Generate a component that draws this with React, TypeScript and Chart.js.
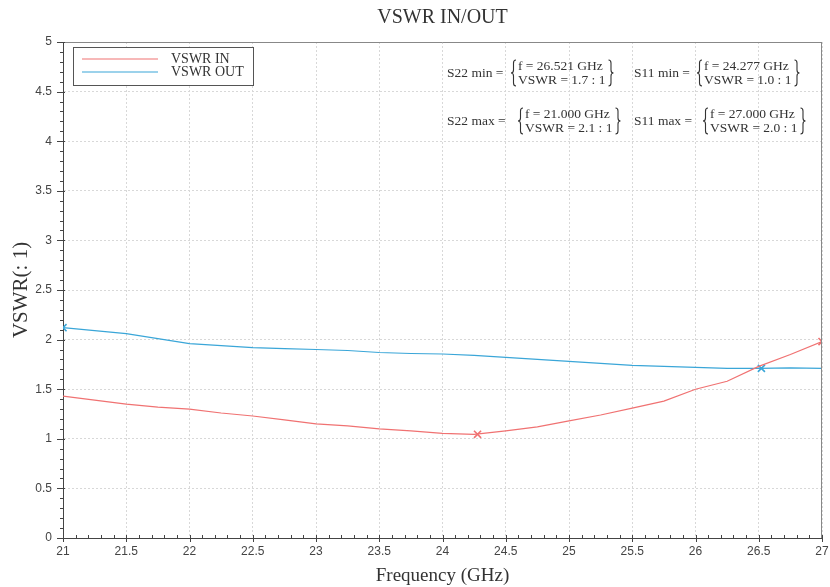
import React, { useEffect, useRef } from "react";
import { Chart, registerables } from "chart.js";

Chart.register(...registerables);

// ---- data ----
const chartTitle = "VSWR IN/OUT";
const xAxisTitle = "Frequency (GHz)";
const yAxisTitle = "VSWR(: 1)";
const seriesNames = ["VSWR IN", "VSWR OUT"];
const seriesColors = ["#f07272", "#3aa6d8"];

const freqGHz = [
  21.0, 21.25, 21.5, 21.75, 22.0, 22.25, 22.5, 22.75, 23.0, 23.25, 23.5, 23.75,
  24.0, 24.25, 24.5, 24.75, 25.0, 25.25, 25.5, 25.75, 26.0, 26.25, 26.5, 26.75, 27.0,
];
const vswrIn = [
  1.43, 1.39, 1.35, 1.32, 1.3, 1.26, 1.23, 1.19, 1.15, 1.13, 1.1, 1.08,
  1.055, 1.045, 1.08, 1.12, 1.18, 1.24, 1.31, 1.38, 1.5, 1.58, 1.73, 1.85, 1.98,
];
const vswrOut = [
  2.12, 2.09, 2.06, 2.01, 1.96, 1.94, 1.92, 1.91, 1.9, 1.89, 1.87, 1.86,
  1.855, 1.84, 1.82, 1.8, 1.78, 1.76, 1.74, 1.73, 1.72, 1.71, 1.71, 1.715, 1.71,
];

// extreme markers: name, series index, frequency, vswr
const markerNames = ["S22 min", "S11 min", "S22 max", "S11 max"];
const markerSeries = [1, 0, 1, 0];
const markerFreq = [26.521, 24.277, 21.0, 27.0];
const markerVswr = [1.71, 1.045, 2.12, 1.98];

const xMin = 21;
const xMax = 27;
const xStep = 0.5;
const yMin = 0;
const yMax = 5;
const yStep = 0.5;
const minorStep = 0.1;

// annotation layout (label x, brace x, center y)
const noteLabelX = [447, 634, 447, 634];
const noteBraceX = [511, 697, 518, 703];
const noteCenterY = [73, 73, 121, 121];

const SERIF = '"Liberation Serif", "DejaVu Serif", serif';
const SANS = '"Liberation Sans", Arial, sans-serif';

const fmtTick = (v: any) => String(Number(Number(v).toFixed(2)));

function drawBrace(ctx: CanvasRenderingContext2D, x: number, top: number, bot: number, left: boolean) {
  const w = 5;
  const mid = (top + bot) / 2;
  const r = 3;
  const s = left ? 1 : -1;
  const xb = x + s * (w / 2);
  const xe = x + s * w;
  ctx.beginPath();
  ctx.moveTo(xe, top);
  ctx.quadraticCurveTo(xb, top, xb, top + r);
  ctx.lineTo(xb, mid - r);
  ctx.quadraticCurveTo(xb, mid, x, mid);
  ctx.quadraticCurveTo(xb, mid, xb, mid + r);
  ctx.lineTo(xb, bot - r);
  ctx.quadraticCurveTo(xb, bot, xe, bot);
  ctx.stroke();
}

const decorPlugin = {
  id: "decor",
  afterDraw(chart: any) {
    const ctx: CanvasRenderingContext2D = chart.ctx;
    const area = chart.chartArea;
    const xs = chart.scales.x;
    const ys = chart.scales.y;
    ctx.save();

    // top/right frame
    ctx.strokeStyle = "#888";
    ctx.lineWidth = 1;
    ctx.beginPath();
    ctx.moveTo(area.left, area.top + 0.5);
    ctx.lineTo(area.right, area.top + 0.5);
    ctx.moveTo(area.right - 0.5, area.top);
    ctx.lineTo(area.right - 0.5, area.bottom);
    ctx.stroke();

    // ticks
    ctx.strokeStyle = "#444";
    ctx.beginPath();
    const ny = Math.round((yMax - yMin) / minorStep);
    for (let i = 0; i <= ny; i++) {
      const v = yMin + i * minorStep;
      const y = Math.round(ys.getPixelForValue(v)) + 0.5;
      const major = i % Math.round(yStep / minorStep) === 0;
      ctx.moveTo(area.left - (major ? 6 : 3), y);
      ctx.lineTo(area.left + (major ? 2 : 0), y);
    }
    const nx = Math.round((xMax - xMin) / minorStep);
    for (let i = 0; i <= nx; i++) {
      const v = xMin + i * minorStep;
      const x = Math.round(xs.getPixelForValue(v)) + 0.5;
      const major = i % Math.round(xStep / minorStep) === 0;
      ctx.moveTo(x, area.bottom - 3);
      ctx.lineTo(x, area.bottom + (major ? 4 : 0));
    }
    ctx.stroke();

    // legend box
    const lx = 73, ly = 47, lw = 180, lh = 38;
    ctx.fillStyle = "#fff";
    ctx.fillRect(lx, ly, lw, lh);
    ctx.strokeStyle = "#555";
    ctx.lineWidth = 1;
    ctx.strokeRect(lx + 0.5, ly + 0.5, lw, lh);
    ctx.font = `14px ${SERIF}`;
    ctx.textBaseline = "middle";
    ctx.textAlign = "left";
    for (let i = 0; i < seriesNames.length; i++) {
      const yy = 59 + i * 13;
      ctx.strokeStyle = seriesColors[i];
      ctx.lineWidth = 1.2;
      ctx.beginPath();
      ctx.moveTo(82, yy);
      ctx.lineTo(158, yy);
      ctx.stroke();
      ctx.fillStyle = "#333";
      ctx.fillText(seriesNames[i], 171, yy + 0.5);
    }

    // annotations
    ctx.font = `13.5px ${SERIF}`;
    ctx.fillStyle = "#333";
    ctx.strokeStyle = "#333";
    for (let k = 0; k < markerNames.length; k++) {
      const cy = noteCenterY[k];
      ctx.lineWidth = 1;
      ctx.fillText(`${markerNames[k]} =`, noteLabelX[k], cy);
      const bx = noteBraceX[k];
      const l1 = `f = ${markerFreq[k].toFixed(3)} GHz`;
      const l2 = `VSWR = ${markerVswr[k].toFixed(1)} : 1`;
      const tx = bx + 7;
      ctx.fillText(l1, tx, cy - 7);
      ctx.fillText(l2, tx, cy + 7);
      const tw = Math.max(ctx.measureText(l1).width, ctx.measureText(l2).width);
      ctx.lineWidth = 1.1;
      drawBrace(ctx, bx, cy - 13, cy + 13, true);
      drawBrace(ctx, tx + tw + 8, cy - 13, cy + 13, false);
    }
    ctx.restore();
  },
};

export default function App() {
  const ref = useRef<HTMLCanvasElement | null>(null);
  useEffect(() => {
    if (!ref.current) return;
    const lineSets = seriesNames.map((name, i) => ({
      type: "line" as const,
      label: name,
      data: freqGHz.map((f, j) => ({ x: f, y: (i === 0 ? vswrIn : vswrOut)[j] })),
      borderColor: seriesColors[i],
      backgroundColor: seriesColors[i],
      borderWidth: 1.2,
      pointRadius: 0,
      tension: 0,
    }));
    const markerSets = markerNames.map((name, k) => ({
      type: "line" as const,
      label: name,
      data: [{ x: markerFreq[k], y: markerVswr[k] }],
      showLine: false,
      borderColor: seriesColors[markerSeries[k]],
      backgroundColor: seriesColors[markerSeries[k]],
      pointStyle: "crossRot" as const,
      pointRadius: 5,
      pointBorderWidth: 1.6,
    }));
    const chart = new Chart(ref.current, {
      type: "line",
      data: { datasets: [...lineSets, ...markerSets] as any },
      options: {
        responsive: false,
        animation: false,
        devicePixelRatio: 1,
        layout: { padding: { left: 0, right: 8, top: 0, bottom: 0 } },
        plugins: {
          legend: { display: false },
          tooltip: { enabled: false },
          title: {
            display: true,
            text: chartTitle,
            fullSize: false,
            color: "#333",
            font: { family: SERIF, size: 20, weight: "normal" },
            padding: { top: 6, bottom: 12 },
          },
        },
        scales: {
          x: {
            type: "linear",
            min: xMin,
            max: xMax,
            afterFit: (s: any) => {
              s.height = 49;
              s.paddingLeft = 0;
              s.paddingRight = 0;
            },
            ticks: {
              stepSize: xStep,
              color: "#444",
              font: { family: SANS, size: 12 },
              padding: 6,
              maxRotation: 0,
              callback: fmtTick,
            },
            grid: { color: "#d8d8d8", lineWidth: 1, drawTicks: false },
            border: { display: true, color: "#444", width: 1, dash: [2, 2] },
            title: {
              display: true,
              text: xAxisTitle,
              color: "#333",
              font: { family: SERIF, size: 19 },
              padding: { top: 0, bottom: 0 },
            },
          },
          y: {
            type: "linear",
            min: yMin,
            max: yMax,
            afterFit: (s: any) => {
              s.width = 63;
            },
            ticks: {
              stepSize: yStep,
              color: "#444",
              font: { family: SANS, size: 12 },
              padding: 11,
              callback: fmtTick,
            },
            grid: { color: "#d8d8d8", lineWidth: 1, drawTicks: false },
            border: { display: true, color: "#444", width: 1, dash: [2, 2] },
            title: {
              display: true,
              text: yAxisTitle,
              color: "#333",
              font: { family: SERIF, size: 21 },
              padding: { top: 9, bottom: 0 },
            },
          },
        },
      },
      plugins: [decorPlugin],
    });
    return () => chart.destroy();
  }, []);
  return (
    <div style={{ position: "absolute", left: 0, top: 0, width: 830, height: 587, background: "#fff" }}>
      <canvas ref={ref} width={830} height={587} style={{ display: "block" }} />
    </div>
  );
}
